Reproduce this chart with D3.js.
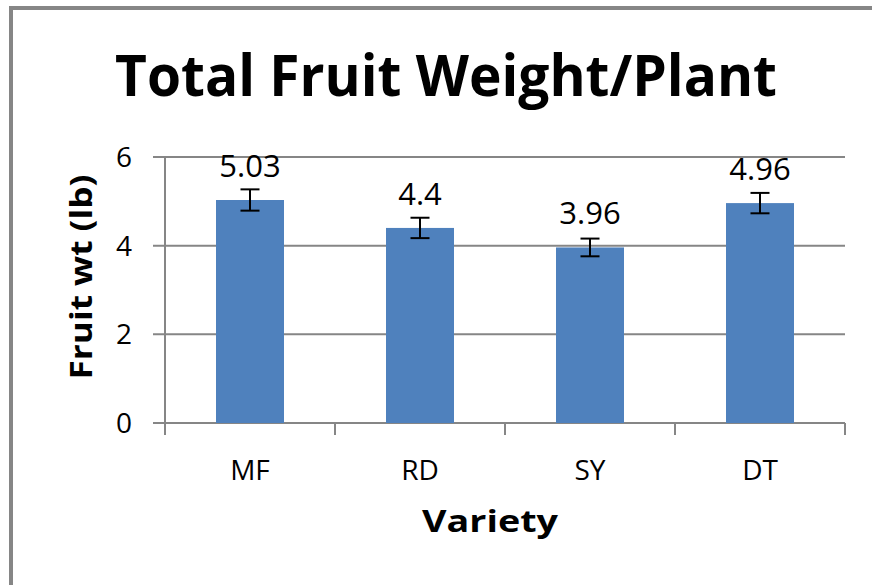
<!DOCTYPE html>
<html>
<head>
<meta charset="utf-8">
<script src="https://cdn.jsdelivr.net/npm/d3@7"></script>
<style>
    body { margin: 0; background: #fff; }
    text { font-family: "Open Sans", "Liberation Sans", sans-serif; fill: #000; }
</style>
</head>
<body>
<script>

// chart data
var varieties = ["MF", "RD", "SY", "DT"],
    fruitWeight = [5.03, 4.4, 3.96, 4.96],
    errors = [0.24, 0.23, 0.2, 0.23],
    valueLabels = ["5.03", "4.4", "3.96", "4.96"],
    yTicks = [0, 2, 4, 6];

// size and position of the plot area
var width = 872,
    height = 585,
    plot = {left: 165, right: 845, top: 157, bottom: 423},
    grey = "#868686";

var svg = d3.select("body").append("svg")
    .attr("width", width)
    .attr("height", height);

// outer chart border
svg.append("rect")
    .attr("x", 11)
    .attr("y", 8)
    .attr("width", width + 20)
    .attr("height", height + 20)
    .attr("fill", "none")
    .attr("stroke", grey)
    .attr("stroke-width", 4);

// scales
var scaleX = d3.scaleBand()
    .domain(varieties)
    .range([plot.left, plot.right]);

var scaleY = d3.scaleLinear()
    .domain([0, 6])
    .range([plot.bottom, plot.top]);

var barWidth = scaleX.bandwidth() * 0.4;

// horizontal gridlines, running past the axis like Excel tick marks
svg.append("g")
    .selectAll("line")
    .data(yTicks)
    .enter()
    .append("line")
        .attr("x1", plot.left - 12)
        .attr("x2", plot.right)
        .attr("y1", function(d) { return scaleY(d); })
        .attr("y2", function(d) { return scaleY(d); })
        .attr("stroke", grey)
        .attr("stroke-width", 2);

// y-axis line
svg.append("line")
    .attr("x1", plot.left)
    .attr("x2", plot.left)
    .attr("y1", plot.top)
    .attr("y2", plot.bottom)
    .attr("stroke", grey)
    .attr("stroke-width", 2);

// y tick labels
svg.append("g")
    .selectAll("text")
    .data(yTicks)
    .enter()
    .append("text")
        .attr("x", 132)
        .attr("y", function(d) { return scaleY(d) + 10; })
        .attr("text-anchor", "end")
        .style("font-size", "28px")
        .text(function(d) { return d; });

// x-axis ticks between categories
var xTickPos = varieties.map(function(d) { return scaleX(d); });
xTickPos.push(plot.right);

svg.append("g")
    .selectAll("line")
    .data(xTickPos)
    .enter()
    .append("line")
        .attr("x1", function(d) { return d; })
        .attr("x2", function(d) { return d; })
        .attr("y1", plot.bottom)
        .attr("y2", plot.bottom + 12)
        .attr("stroke", grey)
        .attr("stroke-width", 2);

// bars
svg.append("g")
    .selectAll("rect")
    .data(fruitWeight)
    .enter()
    .append("rect")
        .attr("x", function(d, i) { return scaleX(varieties[i]) + (scaleX.bandwidth() - barWidth) / 2; })
        .attr("y", function(d) { return scaleY(d); })
        .attr("width", barWidth)
        .attr("height", function(d) { return plot.bottom - scaleY(d); })
        .attr("fill", "#4F81BD");

// error bars
var errG = svg.append("g")
    .attr("stroke", "#000")
    .attr("stroke-width", 2);

fruitWeight.forEach(function(d, i) {
    let cx = scaleX(varieties[i]) + scaleX.bandwidth() / 2,
        top = scaleY(d + errors[i]),
        bottom = scaleY(d - errors[i]);

    errG.append("line")
        .attr("x1", cx).attr("x2", cx)
        .attr("y1", top).attr("y2", bottom);
    errG.append("line")
        .attr("x1", cx - 9.5).attr("x2", cx + 9.5)
        .attr("y1", top).attr("y2", top);
    errG.append("line")
        .attr("x1", cx - 9.5).attr("x2", cx + 9.5)
        .attr("y1", bottom).attr("y2", bottom);
});

// value labels above the bars
svg.append("g")
    .selectAll("text")
    .data(fruitWeight)
    .enter()
    .append("text")
        .attr("x", function(d, i) { return scaleX(varieties[i]) + scaleX.bandwidth() / 2; })
        .attr("y", function(d) { return scaleY(d) - 23; })
        .attr("text-anchor", "middle")
        .style("font-size", "31px")
        .text(function(d, i) { return valueLabels[i]; });

// category labels
svg.append("g")
    .selectAll("text")
    .data(varieties)
    .enter()
    .append("text")
        .attr("x", function(d) { return scaleX(d) + scaleX.bandwidth() / 2; })
        .attr("y", 480)
        .attr("text-anchor", "middle")
        .style("font-size", "28px")
        .text(function(d) { return d; });

// title
svg.append("text")
    .attr("x", 446)
    .attr("y", 96)
    .attr("text-anchor", "middle")
    .attr("textLength", 662)
    .attr("lengthAdjust", "spacingAndGlyphs")
    .style("font-size", "58px")
    .style("font-weight", "bold")
    .text("Total Fruit Weight/Plant");

// x-axis label
svg.append("text")
    .attr("x", 490)
    .attr("y", 532)
    .attr("text-anchor", "middle")
    .attr("textLength", 136)
    .attr("lengthAdjust", "spacingAndGlyphs")
    .style("font-size", "31px")
    .style("font-weight", "bold")
    .text("Variety");

// y-axis label
svg.append("text")
    .attr("transform", "translate(92,277) rotate(-90)")
    .attr("text-anchor", "middle")
    .attr("textLength", 205)
    .attr("lengthAdjust", "spacingAndGlyphs")
    .style("font-size", "31px")
    .style("font-weight", "bold")
    .text("Fruit wt (lb)");

</script>
</body>
</html>
